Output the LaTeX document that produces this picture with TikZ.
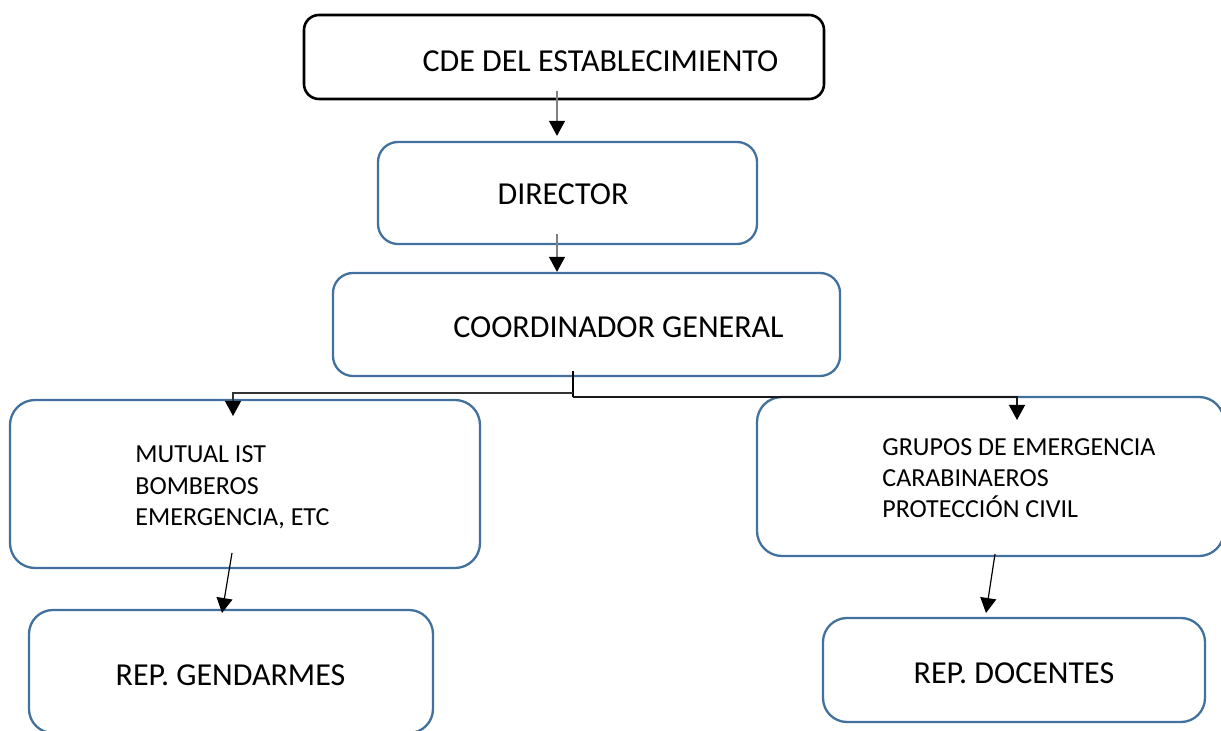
\documentclass[tikz,border=0pt]{standalone}
\usepackage{fontspec}
\setmainfont{Carlito}
\usetikzlibrary{arrows.meta}
\definecolor{boxblue}{HTML}{41719C}

\begin{document}
\begin{tikzpicture}[x=0.5pt,y=-0.5pt,
    box/.style={draw=boxblue, line width=1.15pt, rounded corners=10pt, inner sep=0pt},
    bigtxt/.style={font=\fontsize{16}{19}\selectfont, anchor=base, inner sep=0pt},
    listtxt/.style={font=\fontsize{13}{15.75}\selectfont, anchor=base west, align=left, inner sep=0pt},
    arr/.style={-{Triangle[length=7.5pt,width=8pt,color=black]}, line width=0.6pt},
    ]
    \useasboundingbox (0,0) rectangle (1221,731);
    \clip (0,0) rectangle (1221,731);

    % Upper chain of boxes
    \node[box, draw=black, line width=1.3pt, rounded corners=7.5pt, minimum width=260pt, minimum height=42pt] (cde) at (564,57) {};
    \node[box, minimum width=189.5pt, minimum height=51pt] (dir) at (567.5,193) {};
    \node[box, minimum width=253.5pt, minimum height=51.5pt] (coord) at (586.5,324.5) {};

    \node[bigtxt] (cdetxt) at (600.5,72) {CDE DEL ESTABLECIMIENTO};
    \node[bigtxt] (dirtxt) at (563,205) {DIRECTOR};
    \node[bigtxt] (coordtxt) at (618.5,338) {COORDINADOR GENERAL};

    % Support groups (two branches), anchored at the last baseline
    \node[box, rounded corners=12.5pt, minimum width=235pt, minimum height=84pt] (mutual) at (245,484) {};
    \node[box, rounded corners=12.5pt, minimum width=233.5pt, minimum height=79.5pt] (grupos) at (990.5,476.5) {};

    \node[listtxt] (mutualtxt) at (135,526) {MUTUAL IST\\BOMBEROS\\EMERGENCIA, ETC};
    \node[listtxt, font=\fontsize{13}{15.5}\selectfont] (grupostxt) at (882,518) {GRUPOS DE EMERGENCIA\\CARABINAEROS\\PROTECCIÓN CIVIL};

    % Representatives
    \node[box, rounded corners=12pt, minimum width=202pt, minimum height=61.5pt] (gend) at (231,671.5) {};
    \node[box, rounded corners=12pt, minimum width=191pt, minimum height=52pt] (doc) at (1014,670) {};

    \node[bigtxt] (gendtxt) at (230.5,685) {REP. GENDARMES};
    \node[bigtxt] (doctxt) at (1014,683) {REP. DOCENTES};

    % Arrows down the chain
    \coordinate (a1) at (557,91);
    \coordinate (a2) at (557,234);
    \draw[arr, black!50] (a1) -- (a1 |- dir.north) [shorten >=2.5pt];
    \draw[arr, black!50] (a2) -- (a2 |- coord.north);

    % Branching connector from coordinator
    \coordinate (fork) at (573,371);
    \coordinate (forkl) at (573,393);
    \coordinate (forkr) at (573,397);
    \draw[line width=0.9pt] (fork) -- (forkr);
    \draw[arr, black!80] (forkl) -- (233,393) -- (233,416);
    \draw[arr, black!90] (forkr) -- (1017,397) -- (1017,420);

    % Lower arrows
    \coordinate (m1) at (232,553);
    \coordinate (g1) at (995,554);
    \draw[arr] (m1) -- (222,613);
    \draw[arr] (g1) -- (986,613);
\end{tikzpicture}
\end{document}
